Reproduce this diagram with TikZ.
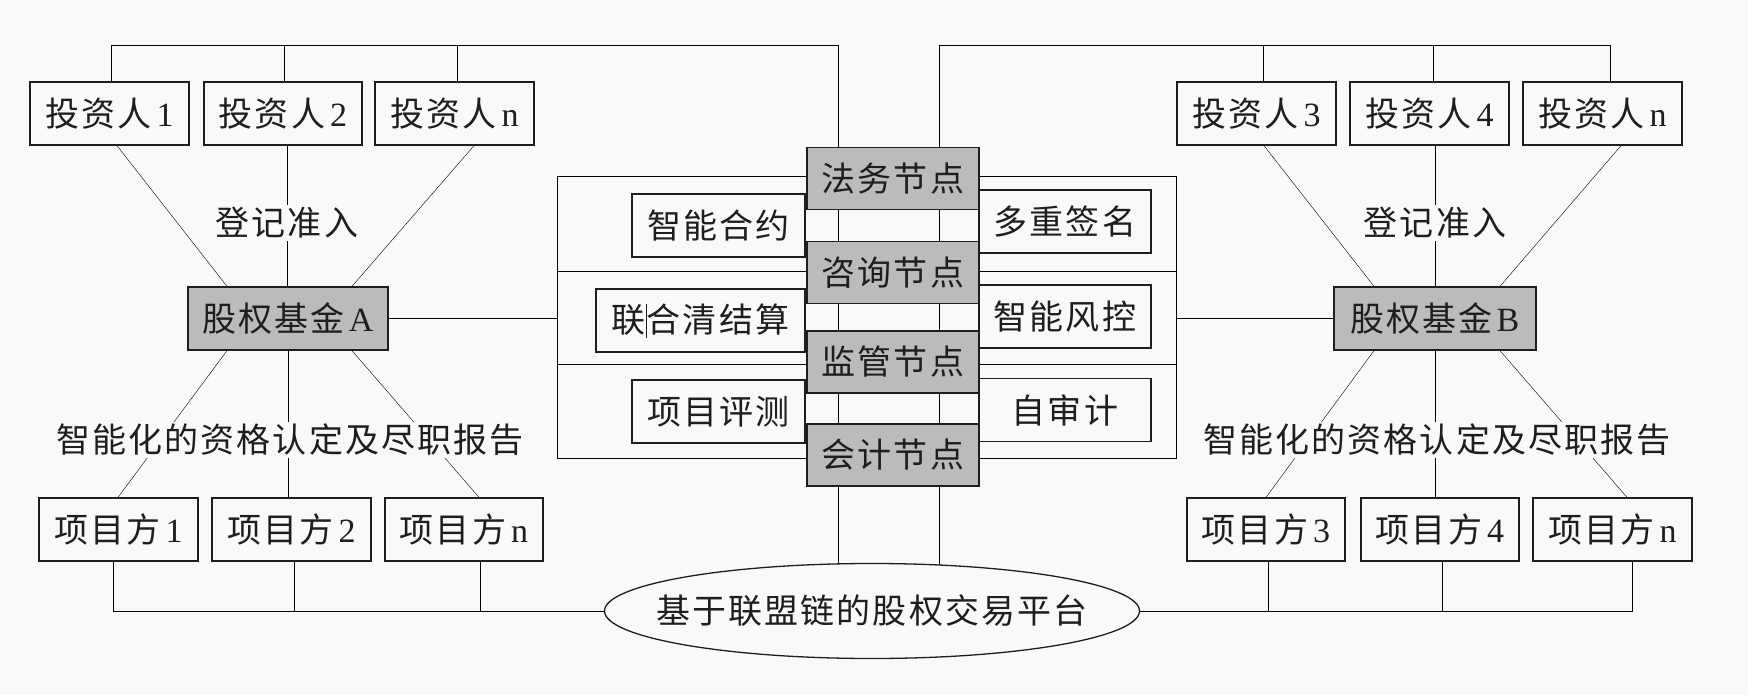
\documentclass[tikz,border=0pt]{standalone}
\usepackage{fontspec}
\setmainfont{Liberation Serif}
\newfontfamily\cjk[LetterSpace=6]{Noto Sans CJK SC}
\newcommand{\zh}[1]{{\cjk #1}}
\usetikzlibrary{shapes.geometric}
\pgfdeclarelayer{back}
\pgfsetlayers{back,main}
\definecolor{bg}{RGB}{247,250,248}
\definecolor{nodegray}{RGB}{185,187,189}
\definecolor{ln}{RGB}{30,30,30}
\begin{document}
\begin{tikzpicture}[x=1pt,y=-1pt,color=ln,line width=1.3pt,
  every node/.style={font=\fontsize{34}{40}\selectfont,text=ln},
  box/.style={draw=ln,line width=1.3pt,fill=bg,minimum height=63pt,inner sep=0pt},
  gbox/.style={draw=ln,line width=1.3pt,fill=nodegray,minimum width=172pt,minimum height=62pt,inner sep=0pt},
  lab/.style={fill=bg,inner sep=2pt},
  plat/.style={ellipse,draw=ln,line width=1.3pt,fill=bg,minimum width=535pt,minimum height=95pt,inner xsep=-30pt,inner ysep=0pt}]
\useasboundingbox (0,0) rectangle (1748,695);

% investors
\node[box,minimum width=159pt] (i1) at (109.5,113.5) {\zh{投资人}\hspace{5pt}1};
\node[box,minimum width=158pt] (i2) at (283,113.5) {\zh{投资人}\hspace{5pt}2};
\node[box,minimum width=159pt] (in1) at (454.5,113.5) {\zh{投资人}\hspace{5pt}n};
\node[box,minimum width=159pt] (i3) at (1256.5,113.5) {\zh{投资人}\hspace{5pt}3};
\node[box,minimum width=159pt] (i4) at (1429.5,113.5) {\zh{投资人}\hspace{5pt}4};
\node[box,minimum width=159pt] (in2) at (1602.5,113.5) {\zh{投资人}\hspace{5pt}n};

% funds
\node[box,fill=nodegray,minimum width=200pt] (fundA) at (288,318.5) {\zh{股权基金}\hspace{4pt}A};
\node[box,fill=nodegray,minimum width=202pt] (fundB) at (1435,318.5) {\zh{股权基金}\hspace{4pt}B};

% central nodes
\node[gbox] (falv) at (893,178.5) {\zh{法务节点}};
\node[gbox] (zixun) at (893,272.5) {\zh{咨询节点}};
\node[gbox] (jianguan) at (893,362) {\zh{监管节点}};
\node[gbox] (kuaiji) at (893,455) {\zh{会计节点}};

% function boxes
\node[box,minimum width=173pt] (hy) at (718.5,225.5) {\zh{智能合约}};
\node[box,minimum width=209pt] (qs) at (700.5,320.5) {\zh{联}\rule[-5pt]{1pt}{34pt}\zh{合清结算}};
\node[box,minimum width=173pt] (pc) at (718.5,411.5) {\zh{项目评测}};
\node[box,minimum width=172pt] (qm) at (1065,221.5) {\zh{多重签名}};
\node[box,minimum width=172pt] (fk) at (1065,316.5) {\zh{智能风控}};
\node[box,minimum width=172pt] (sj) at (1065,410) {\zh{自审计}};

% project parties
\node[box,minimum width=159pt] (p1) at (118.5,529.5) {\zh{项目方}\hspace{5pt}1};
\node[box,minimum width=159pt] (p2) at (291.5,529.5) {\zh{项目方}\hspace{5pt}2};
\node[box,minimum width=158pt] (pn1) at (464,529.5) {\zh{项目方}\hspace{5pt}n};
\node[box,minimum width=158pt] (p3) at (1266,529.5) {\zh{项目方}\hspace{5pt}3};
\node[box,minimum width=158pt] (p4) at (1440,529.5) {\zh{项目方}\hspace{5pt}4};
\node[box,minimum width=159pt] (pn2) at (1612.5,529.5) {\zh{项目方}\hspace{5pt}n};

% platform
\node[plat] (plat) at (872,611) {\zh{基于联盟链的股权交易平台}};

% labels
\node[lab] (reg1) at (287,223) {\zh{登记准入}};
\node[lab] (reg2) at (1435,223) {\zh{登记准入}};
\node[lab] (qual1) at (290,440) {\zh{智能化的资格认定及尽职报告}};
\node[lab] (qual2) at (1437,440) {\zh{智能化的资格认定及尽职报告}};

\begin{pgfonlayer}{back}
\fill[bg] (0,0) rectangle (1748,695);
\coordinate (LL) at (838,45);
\coordinate (RR) at (939,45);
\coordinate (FL) at (557,176);
\coordinate (FR) at (1176,458);
% frame
\draw (FL) rectangle (FR);
\draw (FL |- 0,271) -- (FR |- 0,271);
\draw (FL |- 0,364) -- (FR |- 0,364);
% top buses and rails
\draw ([xshift=1.5pt]i1.north) |- (LL) -- (LL |- plat.center);
\draw ([xshift=1pt]i2.north) -- ([xshift=1pt]i2.north |- LL);
\draw ([xshift=2.5pt]in1.north) -- ([xshift=2.5pt]in1.north |- LL);
\draw (RR |- plat.center) -- (RR) -| ([xshift=7.5pt]in2.north);
\draw ([xshift=6.5pt]i3.north) -- ([xshift=6.5pt]i3.north |- RR);
\draw ([xshift=3.5pt]i4.north) -- ([xshift=3.5pt]i4.north |- RR);
% funds to frame
\draw (fundA.east) -- (fundA.east -| FL);
\draw (fundB.west) -- (fundB.west -| FR);
% investors to funds
\draw ([xshift=7.5pt]i1.south) -- ([xshift=-61pt]fundA.north);
\draw ([xshift=4pt]i2.south) -- ([xshift=-1pt]fundA.north);
\draw ([xshift=19.5pt]in1.south) -- ([xshift=64pt]fundA.north);
\draw ([xshift=7.5pt]i3.south) -- ([xshift=-61pt]fundB.north);
\draw (fundB.north) -- (fundB.north |- i4.south);
\draw ([xshift=18.5pt]in2.south) -- ([xshift=65pt]fundB.north);
% funds to projects
\draw ([xshift=-61pt]fundA.south) -- ([xshift=-0.5pt]p1.north);
\draw (fundA.south) -- (fundA.south |- p2.north);
\draw ([xshift=64pt]fundA.south) -- ([xshift=15pt]pn1.north);
\draw ([xshift=-61pt]fundB.south) -- (p3.north);
\draw (fundB.south) -- (fundB.south |- p4.north);
\draw ([xshift=65pt]fundB.south) -- ([xshift=14.5pt]pn2.north);
% bottom bus
\draw ([xshift=-5pt]p1.south) |- (plat.center);
\draw ([xshift=2.5pt]p2.south) -- ([xshift=2.5pt]p2.south |- plat.center);
\draw ([xshift=16pt]pn1.south) -- ([xshift=16pt]pn1.south |- plat.center);
\draw (plat.center) -| ([xshift=19.5pt]pn2.south);
\draw ([xshift=2pt]p3.south) -- ([xshift=2pt]p3.south |- plat.center);
\draw ([xshift=2pt]p4.south) -- ([xshift=2pt]p4.south |- plat.center);
\end{pgfonlayer}
\end{tikzpicture}
\end{document}
